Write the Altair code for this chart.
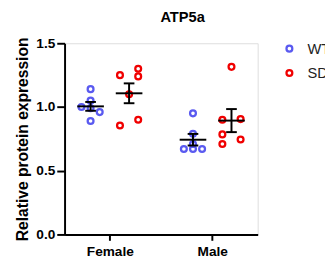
import altair as alt
import pandas as pd

# ---- data ----
sexes = ["Female", "Male"]
genotypes = ["WT", "SD"]
colors = ["#5A5AF0", "#F00000"]

female_wt = [1.14, 1.05, 1.00, 0.99, 0.96, 0.89]
female_wt_slot = [0, 0, -1, 0, 1, 0]
female_sd = [1.25, 1.30, 1.24, 1.10, 0.90, 0.855]
female_sd_slot = [-1, 1, 1, 0, 1, -1]
male_wt = [0.95, 0.79, 0.71, 0.67, 0.67, 0.67]
male_wt_slot = [0, 0, 0, -1, 0, 1]
male_sd = [1.315, 0.90, 0.905, 0.785, 0.71, 0.745]
male_sd_slot = [0, -1, 1, -1, -1, 1]

rows = []
for sex, geno, vals, slots in [
    ("Female", "WT", female_wt, female_wt_slot),
    ("Female", "SD", female_sd, female_sd_slot),
    ("Male", "WT", male_wt, male_wt_slot),
    ("Male", "SD", male_sd, male_sd_slot),
]:
    for v, s in zip(vals, slots):
        rows.append({"sex": sex, "genotype": geno, "value": v, "slot": s})
df = pd.DataFrame(rows)

GOFF = 0.188   # genotype offset from group centre
JIT = 0.089    # jitter spacing
MEANW = 0.13
CAPW = 0.052
FONT = "Liberation Sans"

base = alt.Chart(df).transform_calculate(
    xc="(datum.sex == 'Female' ? 1 : 2) + (datum.genotype == 'WT' ? -%f : %f)" % (GOFF, GOFF)
)

xscale = alt.Scale(domain=[0.558, 2.444], nice=False, zero=False)
yscale = alt.Scale(domain=[0, 1.5], nice=False)

xaxis = alt.Axis(
    values=[1, 2],
    labelExpr="datum.value == 1 ? 'Female' : 'Male'",
    title=None, grid=False,
    domainColor="black", domainWidth=2,
    tickColor="black", tickWidth=2, tickSize=6,
    labelFont=FONT, labelFontSize=14, labelFontWeight="bold",
    labelColor="black", labelPadding=5,
)
yaxis = alt.Axis(
    values=[0, 0.5, 1.0, 1.5], format=".1f",
    title="Relative protein expression", grid=False,
    domainColor="black", domainWidth=2,
    tickColor="black", tickWidth=2, tickSize=8,
    labelFont=FONT, labelFontSize=14, labelFontWeight="bold",
    labelColor="black", labelPadding=2,
    titleFont=FONT, titleFontSize=16, titleFontWeight="bold",
    titleColor="black", titlePadding=6,
)

points = base.transform_calculate(
    xp="datum.xc + datum.slot * %f" % JIT
).mark_point(shape="circle", filled=False, size=36, strokeWidth=2.3, opacity=1).encode(
    x=alt.X("xp:Q", scale=xscale, axis=xaxis),
    y=alt.Y("value:Q", scale=yscale, axis=yaxis),
    color=alt.Color(
        "genotype:N",
        scale=alt.Scale(domain=genotypes, range=colors),
        legend=alt.Legend(
            title=None, orient="none", legendX=223, legendY=-2,
            symbolType="circle", symbolSize=36, symbolStrokeWidth=2.3,
            symbolFillColor="transparent",
            labelFont=FONT, labelFontSize=15, labelColor="#222222",
            labelOffset=11, rowPadding=8, padding=0,
        ),
    ),
)

stats = base.transform_aggregate(
    m="mean(value)", se="stderr(value)", groupby=["xc", "genotype"]
).transform_calculate(
    lo="datum.m - datum.se", hi="datum.m + datum.se",
    ml="datum.xc - %f" % MEANW, mr="datum.xc + %f" % MEANW,
    cl="datum.xc - %f" % CAPW, cr="datum.xc + %f" % CAPW,
)

mean_line = stats.mark_rule(color="black", strokeWidth=2).encode(
    x=alt.X("ml:Q", scale=xscale), x2="mr:Q", y=alt.Y("m:Q", scale=yscale)
)
vbar = stats.mark_rule(color="black", strokeWidth=2).encode(
    x=alt.X("xc:Q", scale=xscale), y=alt.Y("lo:Q", scale=yscale), y2="hi:Q"
)
cap_lo = stats.mark_rule(color="black", strokeWidth=2).encode(
    x=alt.X("cl:Q", scale=xscale), x2="cr:Q", y=alt.Y("lo:Q", scale=yscale)
)
cap_hi = stats.mark_rule(color="black", strokeWidth=2).encode(
    x=alt.X("cl:Q", scale=xscale), x2="cr:Q", y=alt.Y("hi:Q", scale=yscale)
)

chart = alt.layer(points, mean_line, vbar, cap_lo, cap_hi).properties(
    width=198, height=196,
    title=alt.TitleParams(
        "ATP5a", font=FONT, fontSize=15, fontWeight="bold",
        color="black", anchor="middle", dx=22, offset=12,
    ),
    autosize=alt.AutoSizeParams(type="none"),
    padding={"left": 58, "top": 33, "right": 69, "bottom": 22},
).configure_view(stroke=None).configure(background="white")

chart.save("out.html", embed_options={"renderer": "svg", "actions": False})
